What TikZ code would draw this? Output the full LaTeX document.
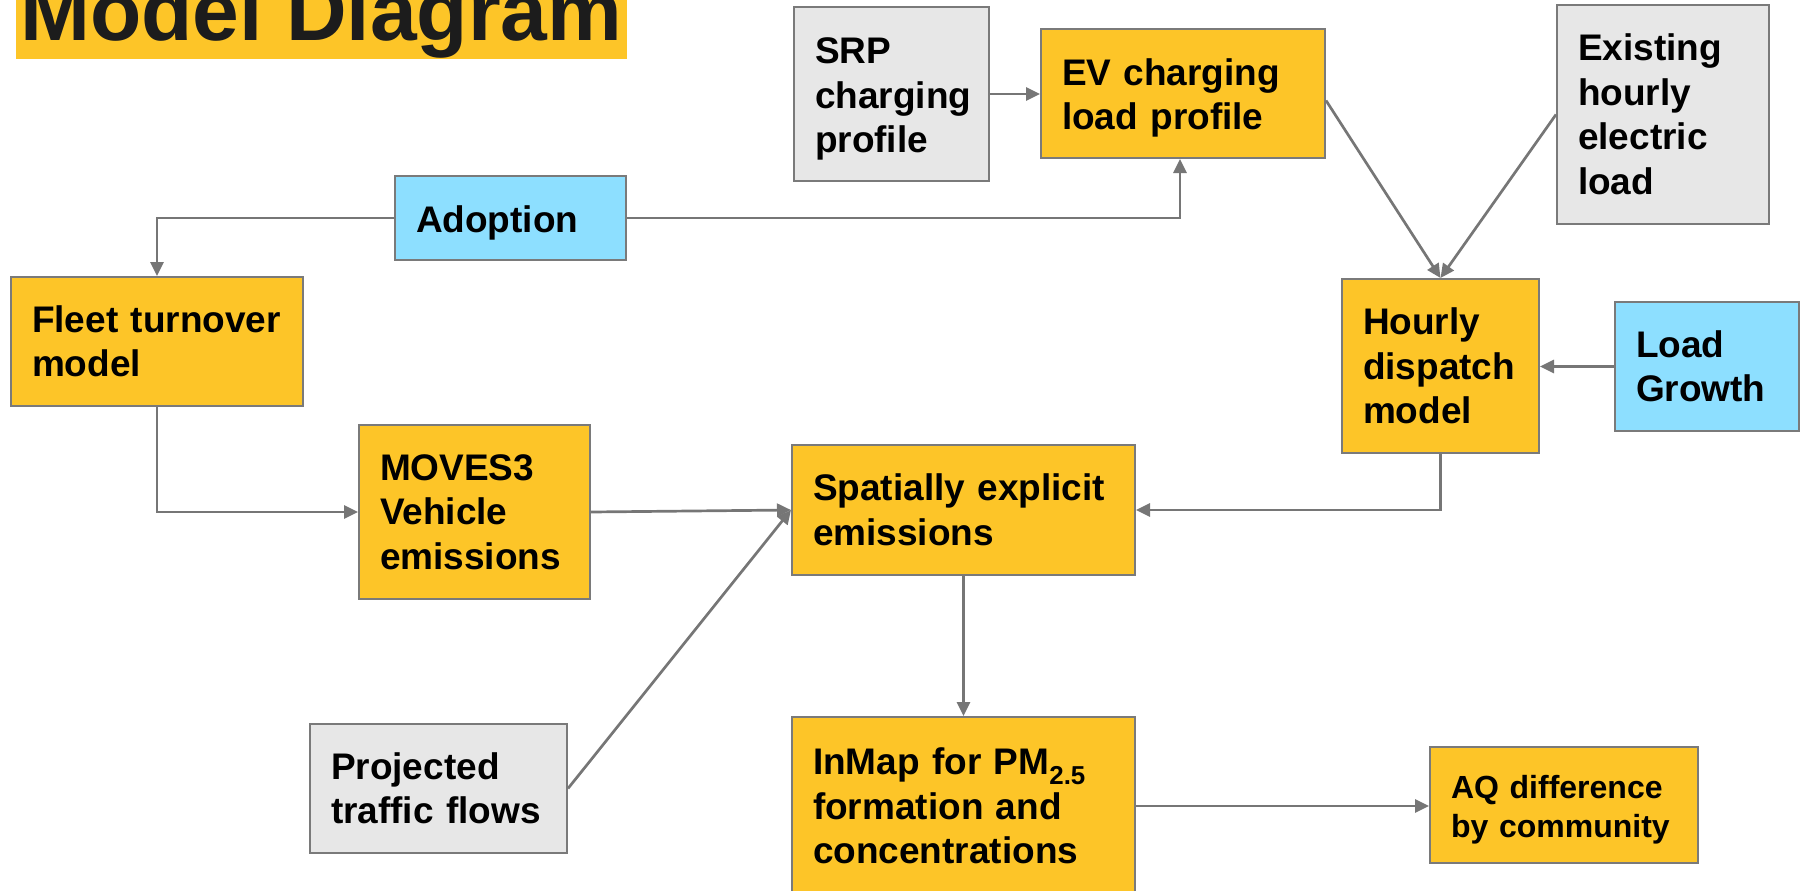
\documentclass[tikz,border=0pt]{standalone}
\usepackage{fontspec}
\setmainfont{Liberation Sans}
\usetikzlibrary{arrows.meta}
\definecolor{yfill}{HTML}{FDC528}
\definecolor{bfill}{HTML}{8DDFFF}
\definecolor{gfill}{HTML}{E7E7E7}
\definecolor{edge}{HTML}{7A7A7A}
\definecolor{linec}{HTML}{767676}
\definecolor{titletext}{HTML}{1C1C1C}
\begin{document}
\begin{tikzpicture}[x=1pt,y=-1pt,
  box/.style={draw=edge, line width=2pt, inner xsep=21pt, inner ysep=0pt, align=left,
    font=\bfseries\fontsize{37}{44.5}\selectfont, text=black},
  ybox/.style={box, fill=yfill},
  bbox/.style={box, fill=bfill},
  gbox/.style={box, fill=gfill},
  lower/.style={execute at begin node={\rule{0pt}{#1}}},
  conn/.style={draw=linec, line width=2.7pt, -{Triangle[length=14pt,width=13pt]}}]
\useasboundingbox (0,0) rectangle (1804,891);
\clip (0,0) rectangle (1804,891);
% title
\fill[yfill] (16,-40) rectangle (627,59);
\node[anchor=base west, inner sep=0pt, text=titletext, font=\bfseries\fontsize{84}{90}\selectfont] (title) at (20,41) {Model Diagram};
% boxes
\node[gbox, lower=36pt, minimum width=195pt, minimum height=174pt, text width=153pt] (srp) at (891.5,94) {SRP\\charging\\profile};
\node[ybox, lower=36pt, minimum width=284pt, minimum height=129pt, text width=242pt] (ev) at (1183,93.5) {EV charging\\load profile};
\node[gbox, minimum width=212pt, minimum height=219pt, text width=170pt] (exist) at (1663,114.5) {Existing\\hourly\\electric\\load};
\node[bbox, lower=36pt, minimum width=231pt, minimum height=84pt, text width=189pt] (adopt) at (510.5,218) {Adoption};
\node[ybox, minimum width=292pt, minimum height=129pt, text width=250pt] (fleet) at (157,341.5) {Fleet turnover\\model};
\node[ybox, minimum width=197pt, minimum height=174pt, text width=155pt] (hourly) at (1440.5,366) {Hourly\\dispatch\\model};
\node[bbox, minimum width=184pt, minimum height=129pt, text width=142pt] (load) at (1707,366.5) {Load\\Growth};
\node[ybox, minimum width=231pt, minimum height=174pt, text width=189pt] (moves) at (474.5,512) {MOVES3\\Vehicle\\emissions};
\node[ybox, minimum width=343pt, minimum height=130pt, text width=301pt] (spatial) at (963.5,510) {Spatially explicit\\emissions};
\node[gbox, minimum width=257pt, minimum height=129pt, text width=215pt] (proj) at (438.5,788.5) {Projected\\traffic flows};
\node[ybox, minimum width=343pt, minimum height=178pt, text width=301pt] (inmap) at (963.5,806) {InMap for PM\textsubscript{2.5}\\formation and\\concentrations};
\node[ybox, lower=32pt, minimum width=268pt, minimum height=116pt, text width=226pt, font=\bfseries\fontsize{32}{39}\selectfont] (aq) at (1564,805) {AQ difference\\by community};
% connectors
\draw[conn] (srp.east) -- (srp.east -| ev.west);
\draw[conn] (adopt.west) -| (fleet.north);
\draw[conn] (adopt.east) -| ([xshift=-3pt]ev.south);
\draw[conn] ([yshift=-7pt]ev.east) -- (hourly.north);
\draw[conn] (exist.west) -- (hourly.north);
\draw[conn] (load.west) -- (load.west -| hourly.east);
\draw[conn] (hourly.south) |- (spatial.east);
\draw[conn] (fleet.south) |- (moves.west);
\draw[conn] (moves.east) -- (spatial.west);
\draw[conn] (proj.east) -- (spatial.west);
\draw[conn] (spatial.south) -- (inmap.north);
\draw[conn] (inmap.east) -- (inmap.east -| aq.west);
\end{tikzpicture}
\end{document}
